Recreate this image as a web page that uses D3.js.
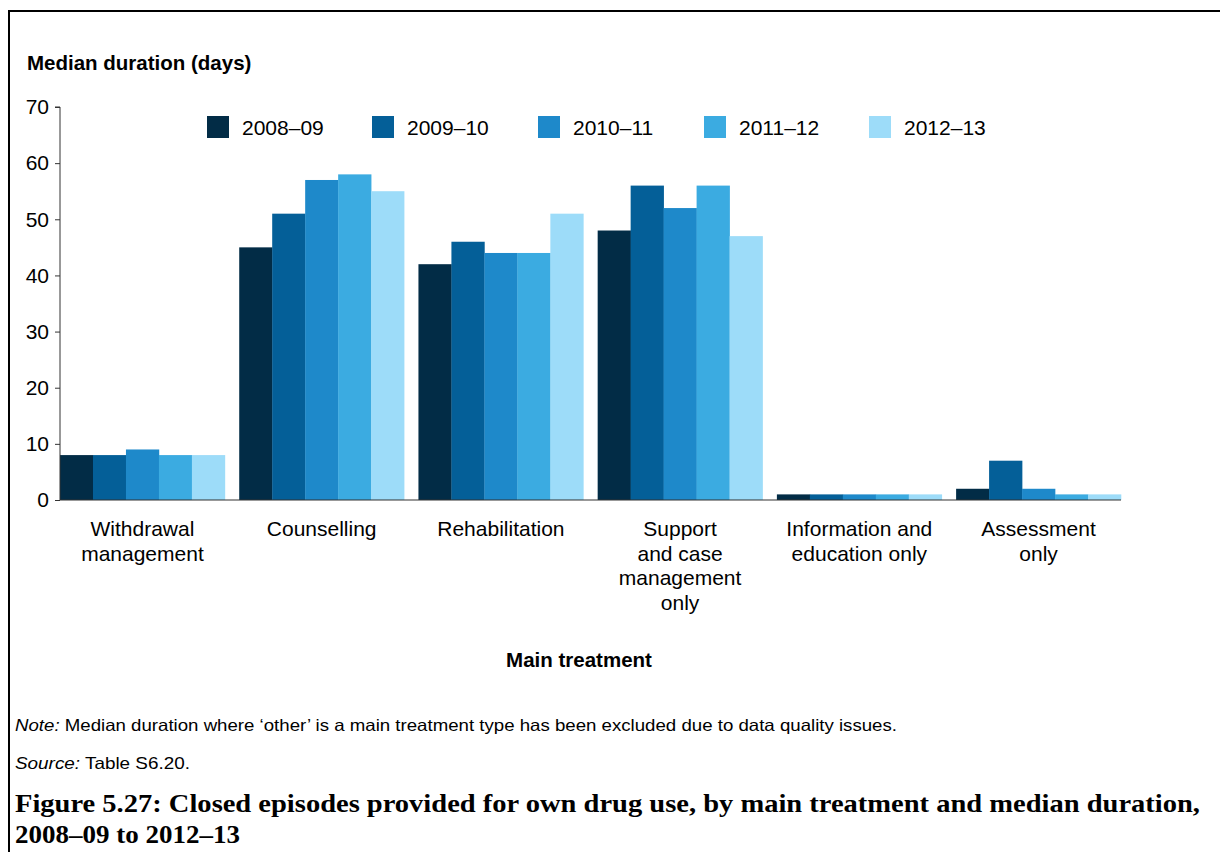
<!DOCTYPE html>
<html>
<head>
<meta charset="utf-8">
<script src="https://cdn.jsdelivr.net/npm/d3@7"></script>
<style>
  body { margin: 0; background: #fff; }
  svg { display: block; font-family: "Liberation Sans", Arial, sans-serif; }
</style>
</head>
<body>
<svg id="chart" width="1220" height="852"></svg>
<script>
// categories and series
var categories = [
  ["Withdrawal", "management"],
  ["Counselling"],
  ["Rehabilitation"],
  ["Support", "and case", "management", "only"],
  ["Information and", "education only"],
  ["Assessment", "only"]
];
var years = ["2008\u201309", "2009\u201310", "2010\u201311", "2011\u201312", "2012\u201313"];
var colors = ["#022c46", "#045f98", "#1e89ca", "#3babe1", "#9ddcf9"];

var v2008 = [8, 45, 42, 48, 1, 2];
var v2009 = [8, 51, 46, 56, 1, 7];
var v2010 = [9, 57, 44, 52, 1, 2];
var v2011 = [8, 58, 44, 56, 1, 1];
var v2012 = [8, 55, 51, 47, 1, 1];
var series = [v2008, v2009, v2010, v2011, v2012];

var yTicks = [0, 10, 20, 30, 40, 50, 60, 70];

var svg = d3.select("#chart");

// frame
svg.append("path")
  .attr("d", "M9,852 V11 H1220")
  .attr("fill", "none")
  .attr("stroke", "#000")
  .attr("stroke-width", 2);

var mLeft = 60, mRight = 1121, mTop = 107, mBottom = 500;

var x0 = d3.scaleBand()
  .domain(d3.range(categories.length))
  .range([mLeft, mRight])
  .paddingInner(0.08)
  .paddingOuter(0);

var x1 = d3.scaleBand()
  .domain(d3.range(years.length))
  .range([0, x0.bandwidth()]);

var y = d3.scaleLinear().domain([0, 70]).range([mBottom, mTop]);

// bars
series.forEach(function(vals, si){
  svg.append("g").selectAll("rect").data(vals).enter()
    .append("rect")
    .attr("x", function(d, i){ return x0(i) + x1(si); })
    .attr("y", function(d){ return y(d); })
    .attr("width", x1.bandwidth() + 0.3)
    .attr("height", function(d){ return y(0) - y(d); })
    .attr("fill", colors[si]);
});

// y axis
var yAxis = d3.axisLeft(y).tickValues(yTicks).tickSize(5).tickPadding(6);
var gy = svg.append("g").attr("transform", "translate(" + mLeft + ",0)").call(yAxis);
gy.select(".domain").attr("stroke", "#333").attr("d", "M-5," + mTop + "H0V" + mBottom);
gy.selectAll(".tick line").attr("stroke", "#333");
gy.selectAll(".tick text")
  .attr("font-size", 21)
  .attr("font-family", "Liberation Sans, Arial, sans-serif")
  .attr("fill", "#000");

// x axis line
svg.append("line")
  .attr("x1", mLeft).attr("x2", mRight)
  .attr("y1", mBottom).attr("y2", mBottom)
  .attr("stroke", "#333").attr("stroke-width", 1.2);

// category labels
categories.forEach(function(lines, i){
  var t = svg.append("text")
    .attr("text-anchor", "middle")
    .attr("font-size", 21)
    .attr("fill", "#000");
  lines.forEach(function(l, j){
    t.append("tspan")
      .attr("x", x0(i) + x0.bandwidth() / 2)
      .attr("y", 536 + j * 24.6)
      .text(l);
  });
});

// axis titles
svg.append("text")
  .attr("x", 27).attr("y", 70)
  .attr("font-size", 20.5).attr("font-weight", "bold")
  .text("Median duration (days)");

svg.append("text")
  .attr("x", 579).attr("y", 667)
  .attr("text-anchor", "middle")
  .attr("font-size", 20.5).attr("font-weight", "bold")
  .text("Main treatment");

// legend
var legendX = [207, 372, 538, 704, 869];
var lg = svg.append("g").selectAll("g").data(years).enter()
  .append("g")
  .attr("transform", function(d, i){ return "translate(" + legendX[i] + ",116)"; });
lg.append("rect").attr("width", 22).attr("height", 22)
  .attr("fill", function(d, i){ return colors[i]; });
lg.append("text").attr("x", 35).attr("y", 19)
  .attr("font-size", 21).text(function(d){ return d; });

// notes
var note = svg.append("text").attr("x", 15).attr("y", 731).attr("font-size", 16.5)
  .attr("textLength", 882).attr("lengthAdjust", "spacingAndGlyphs");
note.append("tspan").attr("font-style", "italic").text("Note:");
note.append("tspan").text(" Median duration where \u2018other\u2019 is a main treatment type has been excluded due to data quality issues.");

var src = svg.append("text").attr("x", 15).attr("y", 769).attr("font-size", 16.5)
  .attr("textLength", 175).attr("lengthAdjust", "spacingAndGlyphs");
src.append("tspan").attr("font-style", "italic").text("Source:");
src.append("tspan").text(" Table S6.20.");

// caption
var capFont = "Liberation Serif, 'DejaVu Serif', serif";
svg.append("text")
  .attr("x", 15).attr("y", 812)
  .attr("font-family", capFont).attr("font-weight", "bold").attr("font-size", 25.5)
  .attr("textLength", 1185).attr("lengthAdjust", "spacingAndGlyphs")
  .text("Figure 5.27: Closed episodes provided for own drug use, by main treatment and median duration,");
svg.append("text")
  .attr("x", 15).attr("y", 843)
  .attr("font-family", capFont).attr("font-weight", "bold").attr("font-size", 25.5)
  .attr("textLength", 225).attr("lengthAdjust", "spacingAndGlyphs")
  .text("2008\u201309 to 2012\u201313");
</script>
</body>
</html>
